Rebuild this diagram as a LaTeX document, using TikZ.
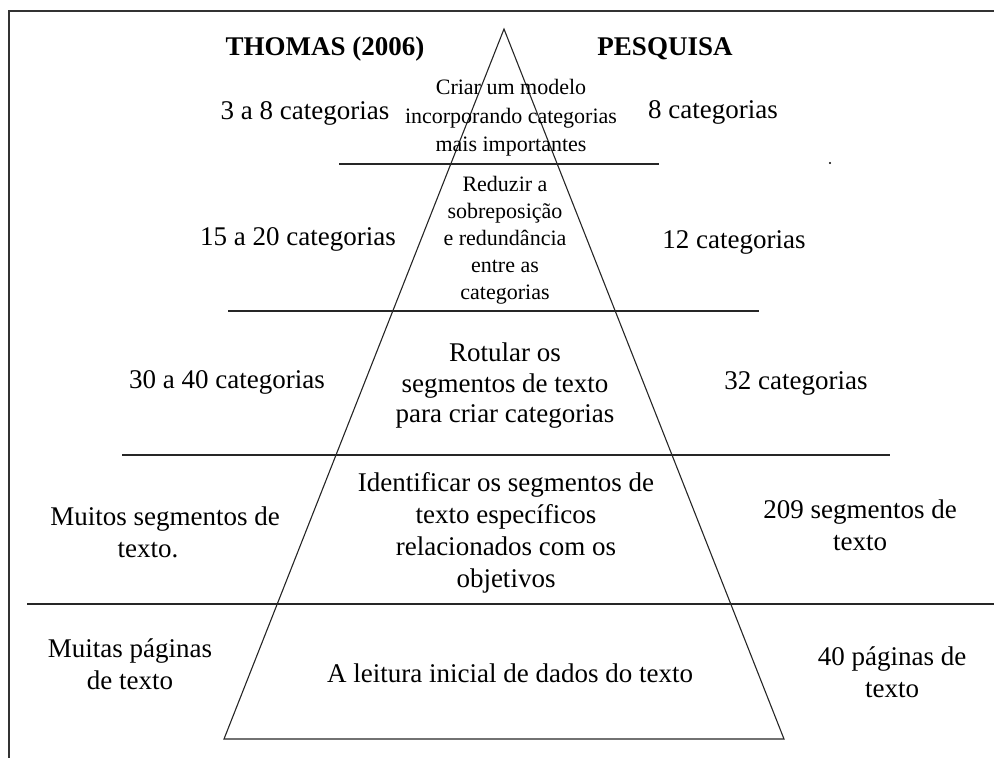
\documentclass[tikz,border=0pt]{standalone}
\usepackage{fontspec}
\setmainfont{Liberation Serif}
\tikzset{
  big/.style={font=\fontsize{27}{32}\selectfont, align=center, inner sep=0pt},
  head/.style={font=\fontsize{27}{32}\selectfont\bfseries, inner sep=0pt},
  small/.style={font=\fontsize{22}{28.5}\selectfont, align=center, inner sep=0pt},
  smallb/.style={font=\fontsize{22}{27}\selectfont, align=center, inner sep=0pt},
  level/.style={line width=1.6pt, black!85},
  tri/.style={line width=1.1pt, black!85},
  frame/.style={line width=1.4pt, black!80}
}
\begin{document}
\begin{tikzpicture}[x=1pt,y=-1pt]
\useasboundingbox (0,0) rectangle (994,758);
% frame
\coordinate (fb) at (9,758);
\coordinate (ftl) at (9,11);
\coordinate (ftr) at (994,11);
\draw[frame] (fb) -- (ftl) -- (ftr);
% pyramid
\coordinate (apex) at (504,29);
\coordinate (bl) at (224,739);
\coordinate (br) at (784,739);
\draw[tri] (apex) -- (bl) -- (br) -- cycle;
% level lines
\coordinate (l1a) at (339,164); \coordinate (l1b) at (659,164);
\coordinate (l2a) at (228,311); \coordinate (l2b) at (759,311);
\coordinate (l3a) at (122,455); \coordinate (l3b) at (890,455);
\coordinate (l4a) at (27,604);  \coordinate (l4b) at (994,604);
\draw[level] (l1a) -- (l1b);
\draw[level] (l2a) -- (l2b);
\draw[level] (l3a) -- (l3b);
\draw[level] (l4a) -- (l4b);
% headers
\node[head] (hthomas) at (325,49) {THOMAS (2006)};
\node[head] (hpesq) at (665,49) {PESQUISA};
% level 1
\node[big] (t1) at (305,113) {3 a 8 categorias};
\node[small] (c1) at (511,118) {Criar um modelo\\incorporando categorias\\mais importantes};
\node[big] (p1) at (713,112) {8 categorias};
\fill[black] (830,163) circle (1.1);
% level 2
\node[smallb] (c2) at (505,240.5) {Reduzir a\\sobreposição\\e redundância\\entre as\\categorias};
\node[big] (t2) at (298,239) {15 a 20 categorias};
\node[big] (p2) at (734,242) {12 categorias};
% level 3
\node[big] (t3) at (227,382) {30 a 40 categorias};
\node[big, font=\fontsize{27}{30.5}\selectfont] (c3) at (505,386) {Rotular os\\segmentos de texto\\para criar categorias};
\node[big] (p3) at (796,383) {32 categorias};
% level 4
\node[big] (t4) at (165,532) {Muitos segmentos de\\texto.\hspace*{34pt}};
\node[big] (c4) at (506,532.5) {Identificar os segmentos de\\texto específicos\\relacionados com os\\objetivos};
\node[big] (p4) at (860,525) {209 segmentos de\\texto};
% level 5
\node[big] (t5) at (130,664) {Muitas páginas\\de texto};
\node[big] (c5) at (510,673) {A leitura inicial de dados do texto};
\node[big] (p5) at (892,672) {40 páginas de\\texto};
\end{tikzpicture}
\end{document}
